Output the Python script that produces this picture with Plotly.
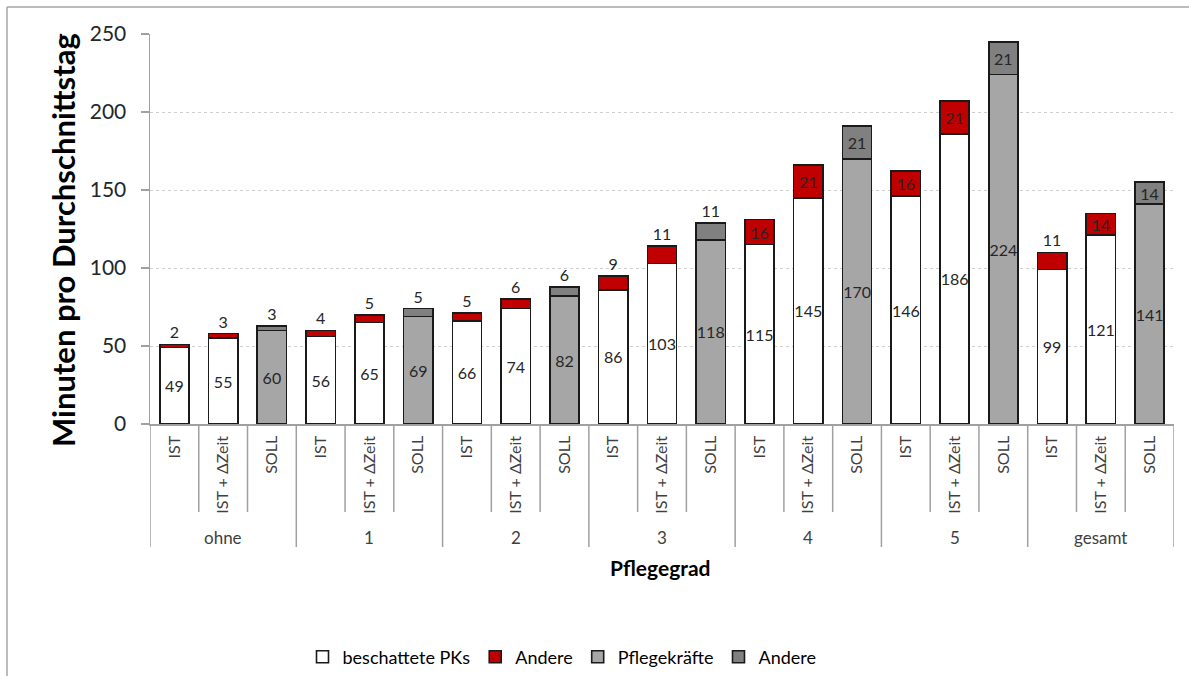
import plotly.graph_objects as go

groups = ["ohne", "1", "2", "3", "4", "5", "gesamt"]
sub_labels = ["IST", "IST + ΔZeit", "SOLL"]

base_vals = [49, 55, 60, 56, 65, 69, 66, 74, 82, 86, 103, 118, 115, 145, 170,
             146, 186, 224, 99, 121, 141]
other_vals = [2, 3, 3, 4, 5, 5, 5, 6, 6, 9, 11, 11, 16, 21, 21,
              16, 21, 21, 11, 14, 14]

legend_names = ["beschattete PKs", "Andere", "Pflegekräfte", "Andere"]
colors = ["#FFFFFF", "#C00000", "#A6A6A6", "#808080"]

FONT = "Lato"
n = len(base_vals)
xs = list(range(n))
is_soll = [sub_labels[i % 3] == "SOLL" for i in xs]
ticktext = [sub_labels[i % 3] for i in xs]

def pick(vals, soll):
    return [v if s == soll else None for v, s in zip(vals, is_soll)]

def pos(vals):
    return ["inside" if (v is not None and v >= 14) else "outside" for v in vals]

fig = go.Figure()
series = [
    (pick(base_vals, False), 0, True),
    (pick(other_vals, False), 1, False),
    (pick(base_vals, True), 2, True),
    (pick(other_vals, True), 3, False),
]
for vals, ci, is_base in series:
    fig.add_trace(go.Bar(
        x=xs, y=vals, name=legend_names[ci],
        marker=dict(color=colors[ci], line=dict(color="#1a1a1a", width=1.6)),
        width=0.6,
        text=[str(v) if v is not None else "" for v in vals],
        textposition="inside" if is_base else pos(vals),
        insidetextanchor="middle",
        constraintext="none",
        textangle=0,
        insidetextfont=dict(family=FONT, size=16, color="#262626"),
        outsidetextfont=dict(family=FONT, size=16, color="#262626"),
        cliponaxis=False,
        hoverinfo="skip",
    ))

W, H = 1189, 676
L, R, T, B = 150, 1174, 34, 424
pw, ph = R - L, B - T

def px2x(px):
    return (px - L) / pw

def py2y(py):
    return (B - py) / ph

shapes = []
line_col = "#A0A0A0"
# inner dividers
for i in range(n - 1):
    if (i + 1) % 3 == 0:
        continue
    shapes.append(dict(type="line", xref="x", yref="paper", x0=i + 0.5, x1=i + 0.5,
                       y0=0, y1=py2y(512), line=dict(color=line_col, width=1.5)))
# group dividers
for g in range(len(groups) + 1):
    xv = g * 3 - 0.5
    shapes.append(dict(type="line", xref="x", yref="paper", x0=xv, x1=xv,
                       y0=0, y1=py2y(547), line=dict(color=line_col, width=1.5)))
# outer chart border (left and top)
shapes.append(dict(type="line", xref="paper", yref="paper", x0=px2x(7), x1=px2x(7),
                   y0=py2y(7), y1=py2y(700), line=dict(color="#A6A6A6", width=1.5)))
shapes.append(dict(type="line", xref="paper", yref="paper", x0=px2x(7), x1=px2x(1200),
                   y0=py2y(7), y1=py2y(7), line=dict(color="#A6A6A6", width=1.5)))

annotations = []
for gi, g in enumerate(groups):
    annotations.append(dict(x=gi * 3 + 1, y=py2y(537), xref="x", yref="paper",
                            text=g, showarrow=False,
                            font=dict(family=FONT, size=17, color="#404040"),
                            xanchor="center", yanchor="middle"))
annotations.append(dict(x=px2x(660), y=py2y(567), xref="paper", yref="paper",
                        text="<b>Pflegegrad</b>", showarrow=False,
                        font=dict(family=FONT, size=21, color="#000000"),
                        xanchor="center", yanchor="middle"))
annotations.append(dict(x=px2x(63), y=py2y(240), xref="paper", yref="paper",
                        text="<b>Minuten pro Durchschnittstag</b>", showarrow=False,
                        textangle=-90,
                        font=dict(family=FONT, size=31, color="#000000"),
                        xanchor="center", yanchor="middle"))

fig.update_layout(
    width=W, height=H,
    margin=dict(l=L, r=W - R, t=T, b=H - B, autoexpand=False),
    barmode="stack",
    bargap=0.4,
    paper_bgcolor="white", plot_bgcolor="white",
    font=dict(family=FONT, color="#404040"),
    showlegend=True,
    legend=dict(orientation="h", x=px2x(562), y=py2y(657), xanchor="center",
                yanchor="middle", font=dict(family=FONT, size=18, color="#000000"),
                traceorder="normal", itemwidth=30),
    xaxis=dict(range=[-0.5, n - 0.5], tickmode="array", tickvals=xs, ticktext=ticktext,
               tickangle=-90, tickfont=dict(family=FONT, size=16, color="#404040"),
               showline=True, linecolor=line_col, linewidth=1.5, ticks="",
               ticklabelstandoff=4,
               showgrid=False, zeroline=False, fixedrange=True),
    yaxis=dict(range=[0, 250], tickmode="array", tickvals=[0, 50, 100, 150, 200, 250],
               tickfont=dict(family=FONT, size=21, color="#262626"),
               showline=True, linecolor=line_col, linewidth=1.5,
               ticks="outside", ticklen=8, tickcolor=line_col, tickwidth=1.5,
               ticklabelstandoff=10,
               showgrid=True, gridcolor="#CFCFCF", griddash="dot", gridwidth=1,
               zeroline=False, fixedrange=True),
    shapes=shapes, annotations=annotations,
)

fig.write_html("out.html", config={"displayModeBar": False, "staticPlot": True})

# remove default browser body margin so the figure sits at the page origin
with open("out.html", "r", encoding="utf-8") as f:
    html = f.read()
html = html.replace("<head>", "<head><style>html,body{margin:0;padding:0;overflow:hidden;}</style>", 1)
with open("out.html", "w", encoding="utf-8") as f:
    f.write(html)
